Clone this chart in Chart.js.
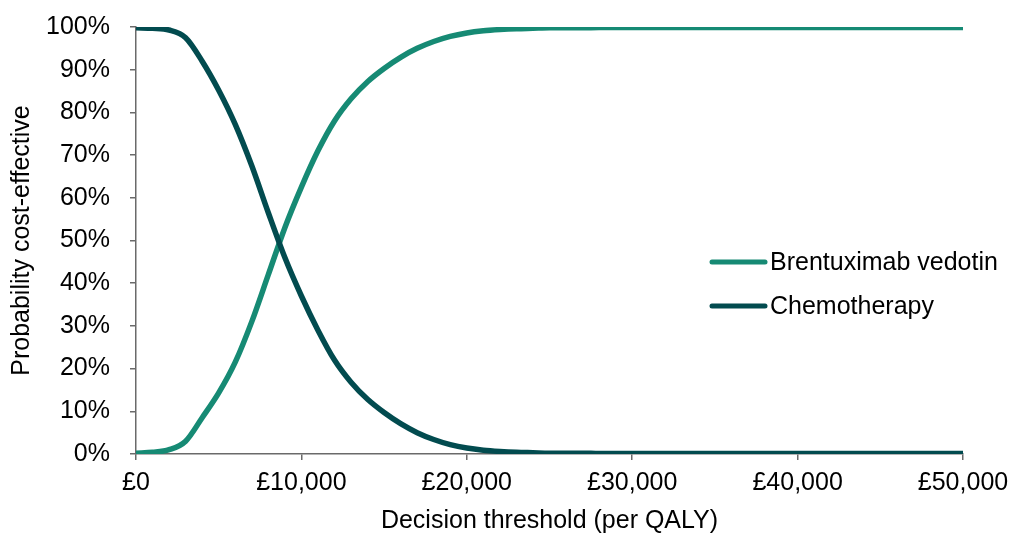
<!DOCTYPE html>
<html>
<head>
<meta charset="utf-8">
<script src="https://cdn.jsdelivr.net/npm/chart.js@4.4.1/dist/chart.umd.min.js"></script>
<style>
  html, body { margin: 0; padding: 0; background: #fff; }
  #wrap { width: 1015px; height: 536px; }
</style>
</head>
<body>
<div id="wrap"><canvas id="ceac" width="1015" height="536"></canvas></div>
<script>
// willingness-to-pay thresholds (GBP per QALY)
const thresholds = [
  0, 1000, 2000, 3000, 4000, 5000, 6000, 7000, 8000, 9000,
  10000, 11000, 12000, 13000, 14000, 15000, 16000, 17000, 18000, 19000,
  20000, 21000, 22000, 23000, 24000, 25000, 26000, 27000, 28000, 29000,
  30000, 32000, 34000, 36000, 38000, 40000, 42000, 44000, 46000, 48000, 50000
]
// probability cost-effective, %
const brentuximab = [
  0.2, 0.4, 1.0, 3.0, 8.5, 14.3, 21.5, 31.0, 42.0, 53.0,
  62.5, 71.0, 78.0, 83.2, 87.2, 90.3, 92.9, 95.0, 96.6, 97.8,
  98.6, 99.1, 99.4, 99.6, 99.7, 99.8, 99.8, 99.8, 99.9, 99.9,
  99.9, 99.9, 99.9, 99.9, 99.9, 99.9, 99.9, 99.9, 99.9, 99.9, 99.9
]
const chemotherapy = [
  99.8, 99.7, 99.3, 97.5, 92.0, 85.2, 77.2, 67.5, 56.5, 46.0,
  37.0, 29.0, 22.0, 16.8, 12.8, 9.7, 7.1, 5.0, 3.4, 2.2,
  1.4, 0.9, 0.6, 0.4, 0.3, 0.2, 0.2, 0.2, 0.1, 0.1,
  0.1, 0.1, 0.1, 0.1, 0.1, 0.1, 0.1, 0.1, 0.1, 0.1, 0.1
]
const seriesNames = ['Brentuximab vedotin', 'Chemotherapy']
const seriesColors = ['#168a74', '#024b4f']
const xTicks = [0, 10000, 20000, 30000, 40000, 50000]
const yTicks = [0, 10, 20, 30, 40, 50, 60, 70, 80, 90, 100]

const FONT = { family: "'Liberation Sans', Arial, sans-serif", size: 25 }
const AXIS = '#6a6a6a'

const toPoints = (ys) => thresholds.map((x, i) => ({ x: x, y: ys[i] }))

// legend drawn inside the plot, to the right of the crossing
const sideLegend = {
  id: 'sideLegend',
  afterDraw (chart) {
    const ctx = chart.ctx
    const left = 712
    const rows = [262, 306]
    ctx.save()
    ctx.font = FONT.size + 'px ' + FONT.family
    ctx.textBaseline = 'middle'
    chart.data.datasets.forEach((ds, i) => {
      const y = rows[i]
      ctx.strokeStyle = ds.borderColor
      ctx.lineWidth = 5
      ctx.lineCap = 'round'
      ctx.beginPath()
      ctx.moveTo(left, y)
      ctx.lineTo(left + 53, y)
      ctx.stroke()
      ctx.fillStyle = '#000'
      ctx.fillText(ds.label, left + 58, y + 1)
    })
    ctx.restore()
  }
}

function createChart () {
  const ctx = document.querySelector('#ceac')
  return new Chart(ctx, {
    type: 'line',
    data: {
      datasets: [
        {
          label: seriesNames[0],
          data: toPoints(brentuximab),
          borderColor: seriesColors[0],
          borderWidth: 5.5,
          order: 1
        },
        {
          label: seriesNames[1],
          data: toPoints(chemotherapy),
          borderColor: seriesColors[1],
          borderWidth: 5.5,
          order: 0
        }
      ]
    },
    options: {
      responsive: false,
      animation: false,
      layout: { padding: { top: 27, right: 52, left: 0, bottom: 0 } },
      elements: {
        point: { radius: 0 },
        line: { cubicInterpolationMode: 'monotone', borderCapStyle: 'round' }
      },
      plugins: {
        legend: { display: false },
        tooltip: { enabled: false }
      },
      scales: {
        x: {
          type: 'linear',
          min: 0,
          max: 50000,
          afterBuildTicks: (s) => { s.ticks = xTicks.map(v => ({ value: v })) },
          afterFit: (s) => {
            s.height = 82
            s.paddingLeft = 0
            s.paddingRight = 0
          },
          ticks: {
            font: FONT,
            color: '#000',
            padding: 8,
            maxRotation: 0,
            callback: (v) => '£' + v.toLocaleString('en-GB')
          },
          grid: { drawOnChartArea: false, drawTicks: true, tickLength: 6, color: AXIS, lineWidth: 1.5 },
          border: { color: AXIS, width: 1.5 },
          title: {
            display: true,
            text: 'Decision threshold (per QALY)',
            font: FONT,
            color: '#000',
            padding: { top: 0, bottom: 0 }
          }
        },
        y: {
          min: 0,
          max: 100,
          afterBuildTicks: (s) => { s.ticks = yTicks.map(v => ({ value: v })) },
          afterFit: (s) => {
            s.width = 136
            s.paddingTop = 0
            s.paddingBottom = 0
          },
          ticks: {
            font: FONT,
            color: '#000',
            padding: 20,
            callback: (v) => v + '%'
          },
          grid: { drawOnChartArea: false, drawTicks: true, tickLength: 6, color: AXIS, lineWidth: 1.5 },
          border: { color: AXIS, width: 1.5 },
          title: {
            display: true,
            text: 'Probability cost-effective',
            font: FONT,
            color: '#000',
            padding: { top: 7, bottom: 0 }
          }
        }
      }
    },
    plugins: [sideLegend]
  })
}

createChart()
</script>
</body>
</html>
